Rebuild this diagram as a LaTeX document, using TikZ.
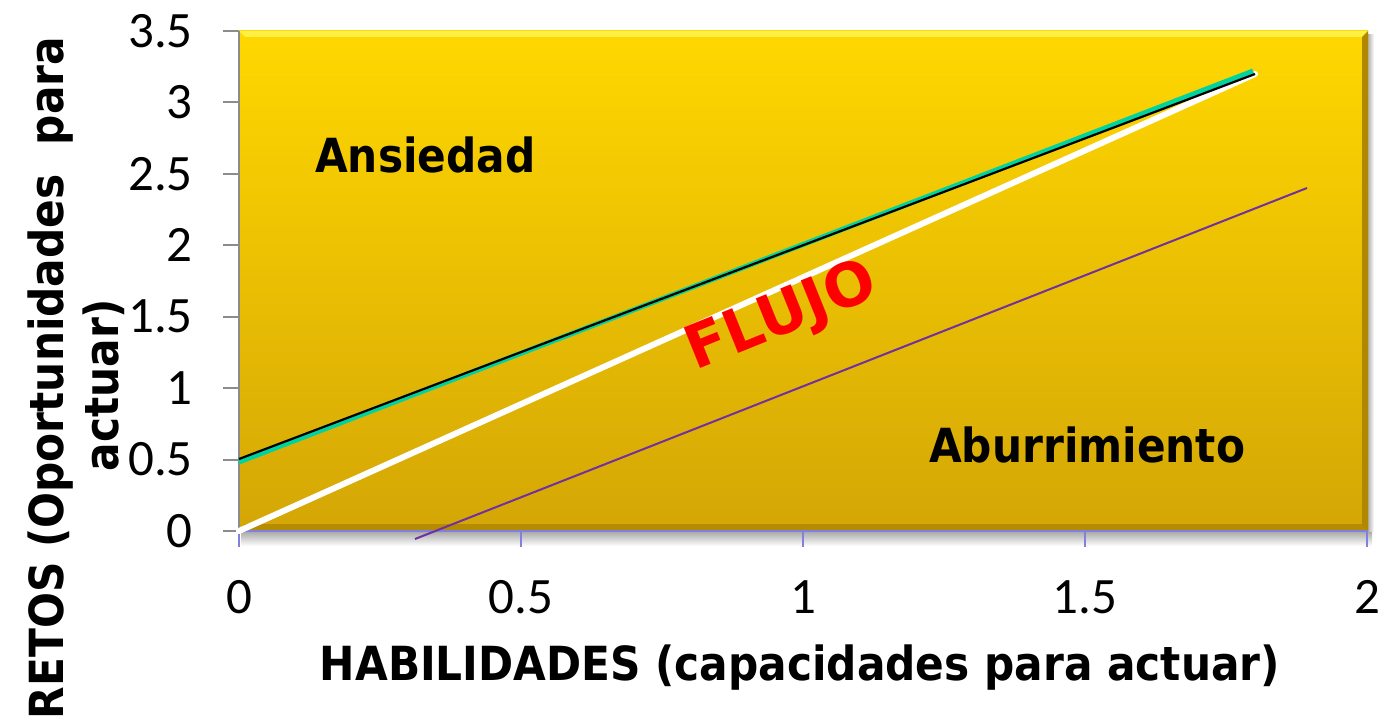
\documentclass[tikz,border=0pt]{standalone}
\usepackage{fontspec}
\setmainfont{Carlito}
\newfontfamily\lblfont{DejaVu Sans Condensed}
\newfontfamily\flujofont{DejaVu Sans}
\definecolor{goldtop}{RGB}{255,216,0}
\definecolor{goldbot}{RGB}{212,166,6}
\definecolor{bevlight}{RGB}{255,240,70}
\definecolor{bevdark}{RGB}{176,136,0}
\definecolor{axisgray}{RGB}{140,140,140}
\definecolor{axisblue}{RGB}{128,128,224}
\definecolor{tealc}{RGB}{0,210,160}
\definecolor{purplec}{RGB}{112,48,160}
\tikzset{
  ticklbl/.style={inner sep=0pt, font=\fontsize{51}{60}\selectfont},
  zonelbl/.style={inner sep=0pt, font=\lblfont\bfseries\fontsize{47}{56}\selectfont},
  flujolbl/.style={inner sep=0pt, text=red, font=\flujofont\bfseries\fontsize{60}{70}\selectfont},
}
\begin{document}
\begin{tikzpicture}[x=1pt,y=-1pt]
\useasboundingbox (0,0) rectangle (1383,727);
\fill[white] (0,0) rectangle (1383,727);
% shadow below plot
\shade[top color=black!35, bottom color=white] (241,531) rectangle (1372,546);
\shade[left color=black!30, right color=white] (1368,35) rectangle (1374,531);
% plot area
\shade[top color=goldtop, bottom color=goldbot] (239,31) rectangle (1368,531);
\fill[bevlight] (239,31) -- (1368,31) -- (1362,37) -- (245,37) -- cycle;
\fill[bevdark] (1368,31) -- (1368,531) -- (1362,525) -- (1362,37) -- cycle;
\fill[bevdark!90!goldbot] (239,531) -- (1368,531) -- (1362,524) -- (245,524) -- cycle;
% axes
\draw[axisgray, line width=2] (239,31) -- (239,531);
\foreach \k in {0,...,7} {
  \draw[axisgray, line width=2] (223,{531-71.43*\k}) -- (239,{531-71.43*\k});
}
\draw[axisblue, line width=2] (239,531) -- (1368,531);
\foreach \k in {0,...,4} {
  \draw[axisblue, line width=2] ({239+282*\k},531) -- ({239+282*\k},547);
}
% y tick labels
\node[ticklbl, anchor=east] (y0) at (193,531) {0};
\node[ticklbl, anchor=east] (y1) at (193,459.6) {0.5};
\node[ticklbl, anchor=east] (y2) at (193,388.1) {1};
\node[ticklbl, anchor=east] (y3) at (193,316.7) {1.5};
\node[ticklbl, anchor=east] (y4) at (193,245.3) {2};
\node[ticklbl, anchor=east] (y5) at (193,173.9) {2.5};
\node[ticklbl, anchor=east] (y6) at (193,102.4) {3};
\node[ticklbl, anchor=east] (y7) at (193,31) {3.5};
% x tick labels
\node[ticklbl, anchor=base] (x0) at (239,613) {0};
\node[ticklbl, anchor=base] (x1) at (521,613) {0.5};
\node[ticklbl, anchor=base] (x2) at (803,613) {1};
\node[ticklbl, anchor=base] (x3) at (1085,613) {1.5};
\node[ticklbl, anchor=base] (x4) at (1367,613) {2};
% lines
\coordinate (w0) at (239,531);
\coordinate (w1) at (1255,74);
\coordinate (t0) at (239,462);
\coordinate (t1) at (1253,71);
\coordinate (b0) at (239,459);
\coordinate (b1) at (1255,74);
\coordinate (p0) at (415,539);
\coordinate (p1) at (1307,188);
\draw[white, line width=6, line cap=round] (w0) -- (w1);
\draw[tealc, line width=5] (t0) -- (t1);
\draw[black, line width=2.2] (b0) -- (b1);
\draw[purplec, line width=2] (p0) -- (p1);
% zone labels
\node[zonelbl, anchor=base west] (ans) at (315,173) {Ansiedad};
\node[zonelbl, anchor=base west] (abu) at (929,462) {Aburrimiento};
\node[flujolbl, rotate=22] (flujo) at (782,318) {FLUJO};
% axis titles
\node[zonelbl, anchor=base] (xt) at (800,680) {HABILIDADES (capacidades para actuar)};
\node[zonelbl, anchor=base, rotate=90] (yt1) at (63,378) {RETOS (Oportunidades\ \ para};
\node[zonelbl, anchor=base, rotate=90] (yt2) at (118,385) {actuar)};
\end{tikzpicture}
\end{document}
